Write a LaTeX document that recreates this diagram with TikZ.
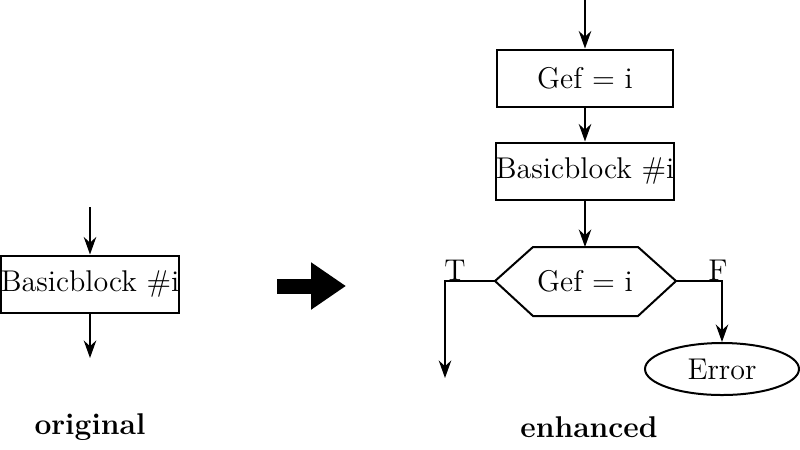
\documentclass[tikz,border=0pt]{standalone}
\usetikzlibrary{shapes.geometric,arrows.meta}
\begin{document}
\begin{tikzpicture}[x=0.4pt,y=-0.4pt,
  box/.style={draw,thick,minimum width=176*0.4pt,minimum height=57*0.4pt,inner sep=0pt,font=\large},
  arr/.style={thick,-{Stealth[length=7pt,width=5pt]}},
  lbl/.style={font=\large}]
\useasboundingbox (0,0) rectangle (800,449);
% left
\node[box,minimum width=168*0.4pt] (bb) at (90,284) {Basicblock \#i};
\coordinate (in0) at (90,207);
\coordinate (out0) at (90,358);
\draw[arr] (in0) -- (bb.north);
\draw[arr] (bb.south) -- (out0);
\node[lbl,font=\large\bfseries] (orig) at (90,427) {original};
% big arrow
\coordinate (ba1) at (277,286);
\coordinate (ba2) at (346,286);
\draw[line width=6pt,-{Triangle[length=14pt,width=18pt]}] (ba1) -- (ba2);
% right
\coordinate (top) at (585,0);
\node[box] (g1) at (585,78) {Gef = i};
\node[box] (b2) at (585,171) {Basicblock \#i};
\draw[arr] (top) -- (g1.north);
\draw[arr] (g1.south) -- (b2.north);
\coordinate (hl) at (495,281);
\coordinate (hr) at (676,281);
\coordinate (ht) at (585,247);
\draw[thick] (hl) -- (533,247) -- (638,247) -- (hr) -- (638,316) -- (533,316) -- cycle;
\node[lbl] (g2) at (585,281) {Gef = i};
\draw[arr] (b2.south) -- (ht);
\coordinate (tend) at (445,378);
\draw[arr] (hl) -| (tend);
\node[lbl] (tl) at (455,270) {T};
\node[draw,thick,ellipse,minimum width=154*0.4pt,minimum height=52*0.4pt,inner sep=0pt,font=\large] (err) at (722,369) {Error};
\draw[arr] (hr) -| (err.north);
\node[lbl] (fl) at (718,270) {F};
\node[font=\large\bfseries] (enh) at (589,427) {enhanced};
\end{tikzpicture}
\end{document}
